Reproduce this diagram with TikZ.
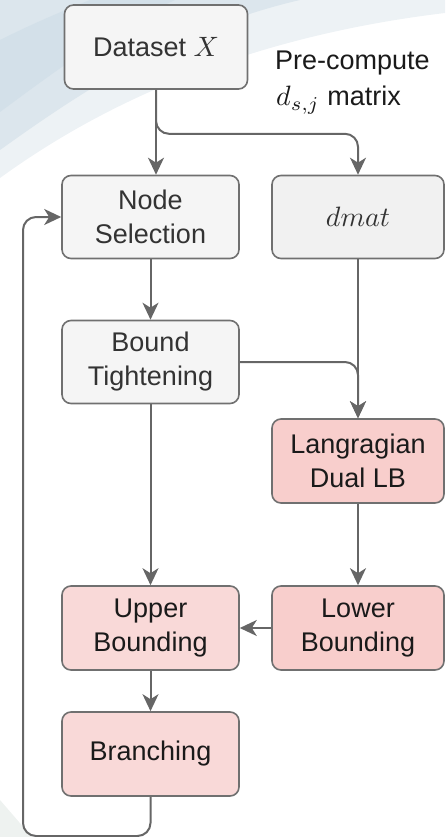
\documentclass[tikz,border=0pt]{standalone}
\usepackage{graphicx}
\usepackage{fontspec}
\setmainfont{Liberation Sans}
\usetikzlibrary{arrows.meta}
\newcommand{\bigmath}[1]{\scalebox{2.8}{\fontsize{10}{12}\selectfont$#1$}}
\definecolor{boxline}{HTML}{707070}
\definecolor{conn}{HTML}{666666}
\definecolor{greyfill}{HTML}{F5F5F5}
\definecolor{dmatfill}{HTML}{F1F1F1}
\definecolor{pinkA}{HTML}{F8CECC}
\definecolor{pinkB}{HTML}{F9D9D8}
\definecolor{greytext}{HTML}{333333}
\definecolor{darktext}{HTML}{1A1A1A}
\definecolor{bgA}{HTML}{EDF2F5}
\definecolor{bgB}{HTML}{DCE6ED}
\definecolor{bgC}{HTML}{D3E0E9}
\definecolor{bgD}{HTML}{EEF2F0}
\tikzset{
  box/.style={draw=boxline, line width=1.6pt, rounded corners=9pt,
    minimum width=177pt, minimum height=83pt, align=center, inner sep=0pt,
    font=\fontsize{27}{34}\selectfont},
  greybox/.style={box, fill=greyfill, text=greytext},
  pinkbox/.style={box, fill=pinkA, text=darktext},
  lightpinkbox/.style={box, fill=pinkB, text=darktext},
  arr/.style={draw=conn, line width=2pt, rounded corners=13pt,
    -{Stealth[length=17pt,width=16pt,inset=5pt]}},
  lbl/.style={font=\fontsize{27}{34}\selectfont, text=darktext, inner sep=0pt}
}
\begin{document}
\begin{tikzpicture}[x=1pt,y=-1pt]
\useasboundingbox (0,0) rectangle (445,837);
% background decoration
\fill[bgA] (0,0) -- (0,178) .. controls (80,120) and (220,40) .. (445,13) -- (445,0) -- cycle;
\fill[bgB] (0,0) -- (0,150) .. controls (70,100) and (170,30) .. (300,0) -- cycle;
\fill[bgC] (0,40) -- (0,112) .. controls (50,75) and (110,30) .. (175,0) -- (90,0) .. controls (60,12) and (30,25) .. (0,40) -- cycle;
\fill[bgD] (0,800) -- (32,837) -- (0,837) -- cycle;

% nodes
\node[greybox, minimum width=183pt, minimum height=84pt] (ds) at (156,47) {Dataset \bigmath{X}};
\node[greybox] (ns) at (150.5,217) {Node\\Selection};
\node[greybox, fill=dmatfill, minimum width=172pt] (dm) at (358,217) {\bigmath{dmat}};
\node[greybox] (bt) at (150.5,362) {Bound\\Tightening};
\node[pinkbox, minimum width=172pt, minimum height=84pt] (lg) at (358,461) {Langragian\\Dual LB};
\node[lightpinkbox, minimum height=84pt] (ub) at (150.5,628) {Upper\\Bounding};
\node[pinkbox, minimum width=172pt, minimum height=84pt] (lb) at (358,628) {Lower\\Bounding};
\node[lightpinkbox, minimum height=84pt] (br) at (150.5,754) {Branching};

\node[lbl, anchor=base west] (pc1) at (275,70) {Pre-compute};
\node[lbl, anchor=base west] (pc2) at (276,106) {\bigmath{d_{s,j}} matrix};

% connectors
\coordinate (loop) at (23,836);
\draw[arr] (ds.south) -- (ds.south |- ns.north);
\draw[arr] (ds.south) -- ++(0,44) -| (dm.north);
\draw[arr] (ns.south) -- (bt.north);
\draw[arr] (dm.south) -- (lg.north);
\draw[arr] (bt.east) -| (lg.north);
\draw[arr] (bt.south) -- (ub.north);
\draw[arr] (lg.south) -- (lb.north);
\draw[arr] (lb.west) -- (ub.east);
\draw[arr] (ub.south) -- (br.north);
\draw[arr] (br.south) |- (loop) |- (ns.west);
\end{tikzpicture}
\end{document}
